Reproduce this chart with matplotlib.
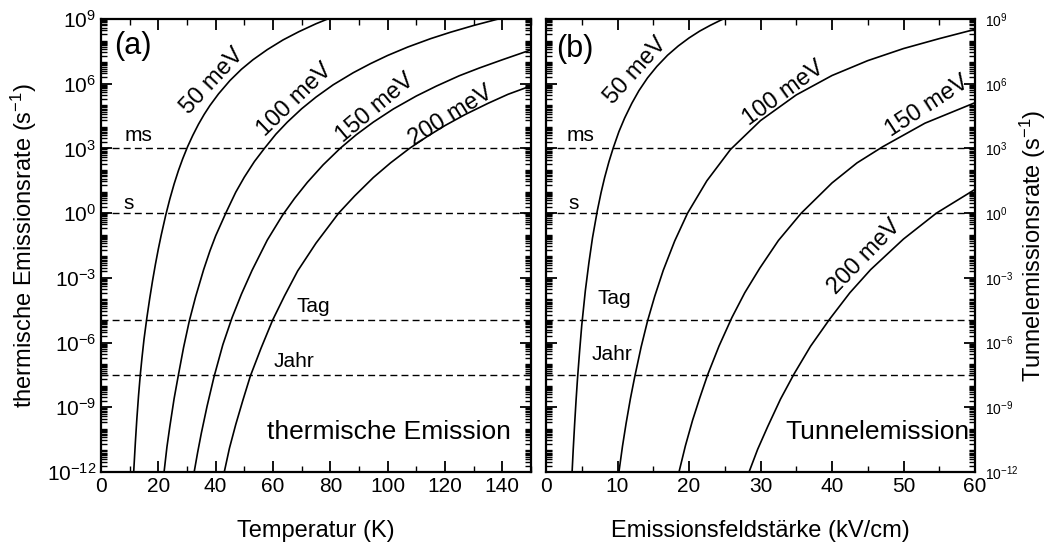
import numpy as np
import matplotlib
matplotlib.use("Agg")
import matplotlib.pyplot as plt
from matplotlib.ticker import LogLocator, MultipleLocator, FixedLocator, NullFormatter

plt.rcParams['font.family'] = ['Liberation Sans', 'DejaVu Sans']
plt.rcParams['mathtext.fontset'] = 'custom'
plt.rcParams['mathtext.rm'] = 'Liberation Sans'
plt.rcParams['mathtext.it'] = 'Liberation Sans'
plt.rcParams['mathtext.default'] = 'regular'
plt.rcParams['axes.unicode_minus'] = False

# (a) thermische Emission: Temperatur (K) vs log10 Rate (s^-1)
T_50 = [11.4, 12.0, 12.5, 13.1, 13.7, 14.3, 15.0, 16.0, 17.0, 18.0, 19.0, 20.0, 21.0, 22.6, 24.0, 25.5,
        27.0, 28.5, 30.2, 32.0, 34.0, 36.0, 38.0, 41.0, 45.0, 49.0, 53.0, 58.0, 63.5, 69.0, 75.0, 80.0]
lg_50 = [-12.0, -10.6, -9.55, -8.45, -7.5, -6.7, -5.85, -4.85, -3.95, -3.12, -2.36, -1.66, -1.02, -0.08, 0.65, 1.35,
         1.97, 2.52, 3.08, 3.6, 4.12, 4.58, 4.99, 5.53, 6.15, 6.67, 7.11, 7.58, 8.03, 8.41, 8.78, 9.05]
T_100 = [22.0, 23.0, 24.0, 25.5, 27.0, 28.8, 30.8, 33.0, 35.8, 38.0, 40.0, 43.7, 47.0, 50.0, 53.5, 57.0,
         61.0, 65.0, 70.0, 75.0, 81.0, 88.0, 94.0, 100.0, 107.0, 115.0, 122.0, 130.0, 138.0, 142.0]
lg_100 = [-12.0, -10.84, -9.9, -8.6, -7.5, -6.23, -5.0, -3.88, -2.62, -1.75, -1.05, 0.05, 0.97, 1.67, 2.39, 3.0,
          3.66, 4.22, 4.84, 5.38, 5.95, 6.51, 6.93, 7.31, 7.7, 8.09, 8.39, 8.7, 8.98, 9.1]
T_150 = [32.5, 33.7, 35.0, 37.0, 39.4, 42.5, 45.7, 49.0, 52.7, 58.0, 63.3, 67.5, 72.0, 77.5, 83.4, 89.0,
         95.0, 102.0, 110.0, 117.0, 125.0, 132.0, 140.0, 150.0]
lg_150 = [-12.0, -11.1, -10.2, -8.95, -7.6, -6.1, -4.85, -3.75, -2.65, -1.25, -0.1, 0.68, 1.43, 2.24, 3.0, 3.63,
          4.22, 4.83, 5.43, 5.89, 6.37, 6.73, 7.11, 7.57]
T_200 = [43.0, 44.8, 47.0, 49.5, 52.1, 55.8, 59.9, 64.0, 68.6, 75.0, 82.9, 88.5, 95.0, 101.0, 107.6, 114.0,
         120.0, 127.0, 135.0, 142.0, 150.0]
lg_200 = [-12.0, -10.9, -9.8, -8.67, -7.55, -6.27, -4.95, -3.84, -2.68, -1.39, 0.0, 0.8, 1.65, 2.33, 3.0, 3.57,
          4.06, 4.57, 5.09, 5.51, 5.9]

# (b) Tunnelemission: Feldstaerke (kV/cm) vs log10 Rate (s^-1)
F_50 = [3.65, 3.8, 4.0, 4.2, 4.4, 4.7, 5.0, 5.5, 6.0, 6.5, 7.17, 7.7, 8.2, 8.8, 9.4, 10.2, 11.0, 12.0,
        13.0, 14.2, 15.5, 17.0, 18.5, 20.0, 21.5, 23.0, 24.4, 25.0]
lg_t50 = [-12.0, -11.0, -9.8, -8.7, -7.7, -6.4, -5.2, -3.6, -2.3, -1.15, 0.1, 0.95, 1.65, 2.38, 3.02, 3.78, 4.41, 5.09,
          5.68, 6.27, 6.8, 7.32, 7.75, 8.12, 8.44, 8.71, 8.94, 9.03]
F_100 = [10.2, 10.7, 11.2, 11.8, 12.4, 13.3, 14.2, 15.2, 16.4, 18.0, 19.8, 22.5, 25.8, 30.0, 35.0, 40.0,
         45.0, 50.0, 55.0, 60.0]
lg_t100 = [-12.0, -10.8, -9.75, -8.61, -7.6, -6.21, -5.0, -3.86, -2.65, -1.29, 0.0, 1.5, 2.95, 4.29, 5.48, 6.38,
           7.07, 7.63, 8.09, 8.52]
F_150 = [18.6, 19.5, 20.5, 21.5, 22.6, 24.2, 26.0, 27.8, 29.9, 32.5, 35.7, 40.0, 43.5, 47.1, 53.0, 60.0]
lg_t150 = [-12.0, -10.78, -9.6, -8.57, -7.5, -6.16, -4.84, -3.69, -2.55, -1.27, 0.0, 1.4, 2.33, 3.08, 4.17, 5.12]
F_200 = [28.4, 29.6, 31.0, 32.8, 34.7, 37.0, 39.7, 42.5, 45.4, 50.0, 54.6, 60.0]
lg_t200 = [-12.0, -10.95, -9.9, -8.62, -7.45, -6.17, -4.9, -3.69, -2.62, -1.2, 0.0, 1.1]

energies = ["50 meV", "100 meV", "150 meV", "200 meV"]

# Zeitskalen: Rate = 1/Zeit
scale_names = ["ms", "s", "Tag", "Jahr"]
scale_rates = [1e3, 1.0, 1 / 86400, 1 / (365 * 86400)]

fig = plt.figure(figsize=(10.54, 5.48), dpi=100)
ax1 = fig.add_axes([101 / 1054, 76 / 548, 430 / 1054, 453 / 548])
ax2 = fig.add_axes([546 / 1054, 76 / 548, 429 / 1054, 453 / 548])


def style(ax, xmax, xmaj, xmin):
    ax.set_yscale('log')
    ax.set_ylim(1e-12, 1e9)
    ax.set_xlim(0, xmax)
    ax.xaxis.set_major_locator(MultipleLocator(xmaj))
    ax.xaxis.set_minor_locator(MultipleLocator(xmin))
    ax.yaxis.set_major_locator(FixedLocator([10.0 ** k for k in range(-12, 10, 3)]))
    ax.yaxis.set_minor_locator(LogLocator(base=10, subs=np.arange(1, 10), numticks=100))
    ax.yaxis.set_minor_formatter(NullFormatter())
    ax.tick_params(which='both', direction='in', top=True, right=True, left=True, bottom=True)
    ax.tick_params(which='major', length=8, width=1.3, labelsize=15)
    ax.tick_params(which='minor', length=4, width=1.0)
    for sp in ax.spines.values():
        sp.set_linewidth(1.6)
    for r in scale_rates:
        ax.axhline(r, color='black', lw=1.0, ls=(0, (5, 3)))


style(ax1, 150, 20, 10)
style(ax2, 60, 10, 5)

for xs, ls in [(T_50, lg_50), (T_100, lg_100), (T_150, lg_150), (T_200, lg_200)]:
    ax1.plot(xs, 10.0 ** np.array(ls), color='black', lw=1.2)
for xs, ls in [(F_50, lg_t50), (F_100, lg_t100), (F_150, lg_t150), (F_200, lg_t200)]:
    ax2.plot(xs, 10.0 ** np.array(ls), color='black', lw=1.2)

# Beschriftungen der Kurven
lab_a = [(38.7, 6.1, 47), (67.7, 5.25, 44), (95.6, 4.87, 40), (122, 4.5, 32)]
lab_b = [(12.5, 6.6, 48), (33.3, 5.57, 36), (53.3, 4.97, 33), (44.6, -2.03, 46)]
for name, (x, l, rot) in zip(energies, lab_a):
    ax1.text(x, 10 ** l, name, rotation=rot, rotation_mode='anchor', ha='center', va='center', fontsize=17)
for name, (x, l, rot) in zip(energies, lab_b):
    ax2.text(x, 10 ** l, name, rotation=rot, rotation_mode='anchor', ha='center', va='center', fontsize=17)

pos_a = [(13.2, 3.6), (9.8, 0.45), (74.1, -4.33), (67.3, -6.86)]
pos_b = [(4.8, 3.6), (3.8, 0.45), (9.6, -3.98), (9.2, -6.55)]
for name, (x, l) in zip(scale_names, pos_a):
    ax1.text(x, 10 ** l, name, ha='center', va='center', fontsize=15)
for name, (x, l) in zip(scale_names, pos_b):
    ax2.text(x, 10 ** l, name, ha='center', va='center', fontsize=15)

ax1.text(100.3, 10 ** -10.15, "thermische Emission", ha='center', va='center', fontsize=19)
ax2.text(46.4, 10 ** -10.15, "Tunnelemission", ha='center', va='center', fontsize=19)
ax1.text(11.2, 10 ** 7.73, "(a)", ha='center', va='center', fontsize=22)
ax2.text(4.06, 10 ** 7.6, "(b)", ha='center', va='center', fontsize=22)

ax1.set_xlabel("Temperatur (K)", fontsize=17)
ax1.xaxis.set_label_coords(0.5, -0.105)
ax1.set_ylabel("thermische Emissionsrate (s$^{-1}$)", fontsize=17)
ax1.yaxis.set_label_coords(-0.145, 0.5)

ax2.set_xlabel("Emissionsfeldstärke (kV/cm)", fontsize=17)
ax2.xaxis.set_label_coords(0.5, -0.105)
ax2.tick_params(axis='y', which='both', labelleft=False, labelright=True)
ax2.tick_params(axis='y', which='major', labelsize=10, pad=7)
ax2.yaxis.set_label_position('right')
ax2.set_ylabel("Tunnelemissionsrate (s$^{-1}$)", fontsize=17)
ax2.yaxis.set_label_coords(1.1, 0.5)

fig.savefig("out.png", dpi=100)
